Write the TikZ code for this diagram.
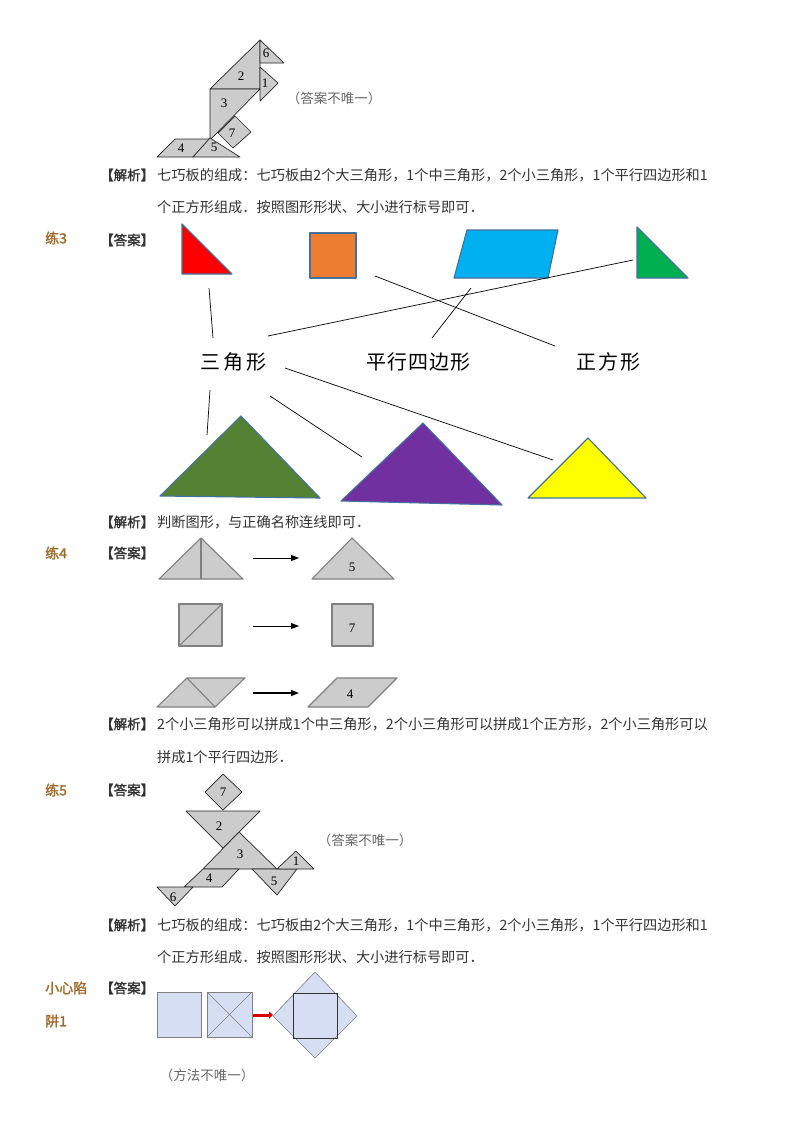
\documentclass[tikz,border=0pt]{standalone}
\usepackage{fontspec}
\usetikzlibrary{arrows.meta}
\setmainfont{Liberation Serif}
\newfontfamily\cjk{Noto Sans CJK SC}
\newfontfamily\cjkb[FakeBold=1.6]{Noto Sans CJK SC}
\begin{document}
\begin{tikzpicture}[x=1pt,y=-1pt,
  txt/.style={anchor=west,inner sep=0pt,text=black!80,font=\cjk\fontsize{14.2}{16}\selectfont},
  tag/.style={anchor=west,inner sep=0pt,text=black!80,font=\cjkb\fontsize{13.5}{15}\selectfont},
  lian/.style={anchor=west,inner sep=0pt,text={rgb,255:red,160;green,105;blue,40},font=\cjkb\fontsize{14}{16}\selectfont},
  gray note/.style={inner sep=0pt,text=black!60,font=\cjk\fontsize{13.5}{15}\selectfont},
  pc/.style={fill=black!20,draw=black!85,line width=0.7pt,line join=round},
  pc4/.style={fill=black!20,draw=black!50,line width=1.1pt,line join=round},
  numx/.style={inner sep=0pt,font=\fontsize{13}{15}\selectfont},
  colp/.style={draw={rgb,255:red,65;green,113;blue,156},line width=1.1pt,line join=round},
  lbl/.style={inner sep=0pt,font=\cjk\fontsize{20}{22}\selectfont},
  ln/.style={black,line width=0.7pt},
  paper/.style={fill={rgb,255:red,214;green,222;blue,244},draw=black!50,line width=0.6pt},
  arr/.style={-{Triangle[length=8pt,width=6pt]},line width=0.9pt}]
\path[fill=white] (0,0) rectangle (800,1133);
% ---- top figure
\draw[pc] (260,40)--(210,89)--(260,89)--cycle;
\draw[pc] (260,40)--(260,63)--(284,63)--cycle;
\draw[pc] (260,67)--(260,101)--(278,83)--cycle;
\draw[pc] (210,89)--(260,89)--(210,140)--cycle;
\draw[pc] (235,116)--(251,132)--(233,148)--(218,133)--cycle;
\draw[pc] (175,139)--(210,139)--(193,157)--(157,157)--cycle;
\draw[pc] (210,138)--(193,157)--(240,157)--cycle;
\node[numx] (n6) at (266,53) {6};
\node[numx] (n2) at (241,76) {2};
\node[numx] (n1) at (265,83) {1};
\node[numx] (n3) at (224,103) {3};
\node[numx] (n7) at (232,133) {7};
\node[numx] (n5) at (214,147) {5};
\node[numx] (n4) at (181,148) {4};
\node[gray note] (a1) at (334,98) {（答案不唯一）};
\node[tag] (j1) at (100,175) {【解析】};
\node[txt] (j1a) at (157,175) {七巧板的组成：七巧板由2个大三角形，1个中三角形，2个小三角形，1个平行四边形和1};
\node[txt] (j1b) at (157,207) {个正方形组成．按照图形形状、大小进行标号即可．};
% ---- lian 3
\node[lian] (l3) at (45,238) {练3};
\node[tag] (d3) at (100,240) {【答案】};
\draw[colp,fill={rgb,255:red,255;green,0;blue,0}] (182,224)--(182,274)--(232,274)--cycle;
\draw[colp,fill={rgb,255:red,237;green,125;blue,49}] (310,233) rectangle (356,278);
\draw[colp,fill={rgb,255:red,0;green,176;blue,240}] (467,230)--(558,230)--(548,278)--(454,278)--cycle;
\draw[colp,fill={rgb,255:red,0;green,176;blue,80}] (637,227)--(637,278)--(688,278)--cycle;
\node[lbl] (t1) at (233,362) {三\hspace{3pt}角\hspace{3pt}形};
\node[lbl] (t2) at (418,362) {平\hspace{1pt}行\hspace{1pt}四\hspace{1pt}边\hspace{1pt}形};
\node[lbl] (t3) at (608,362) {正\hspace{2pt}方\hspace{2pt}形};
\coordinate (c1) at (209,288); \coordinate (c2) at (213,338);
\coordinate (c3) at (375,276); \coordinate (c4) at (555,346);
\coordinate (c5) at (471,288); \coordinate (c6) at (432,338);
\coordinate (c7) at (633,260); \coordinate (c8) at (268,336);
\coordinate (c9) at (210,390); \coordinate (c10) at (207,435);
\coordinate (c11) at (270,396); \coordinate (c12) at (362,457);
\coordinate (c13) at (285,368); \coordinate (c14) at (553,460);
\draw[ln] (c1)--(c2); \draw[ln] (c3)--(c4); \draw[ln] (c5)--(c6); \draw[ln] (c7)--(c8);
\draw[ln] (c9)--(c10); \draw[ln] (c11)--(c12); \draw[ln] (c13)--(c14);
\draw[colp,fill={rgb,255:red,84;green,130;blue,53}] (160,496)--(241,416)--(320,498)--cycle;
\draw[colp,fill={rgb,255:red,112;green,48;blue,160}] (341,501)--(423,423)--(502,505)--cycle;
\draw[colp,fill={rgb,255:red,255;green,255;blue,0}] (528,498)--(588,438)--(646,498)--cycle;
\node[tag] (j3) at (100,522) {【解析】};
\node[txt] (j3a) at (157,522) {判断图形，与正确名称连线即可．};
% ---- lian 4
\node[lian] (l4) at (45,553) {练4};
\node[tag] (d4) at (100,553) {【答案】};
\draw[pc4] (159,579)--(201,538)--(243,579)--cycle; \draw[pc4] (201,538)--(201,579);
\draw[pc4] (312,579)--(352,538)--(394,579)--cycle;
\node[numx] (m5) at (352,567) {5};
\draw[pc4] (179,604) rectangle (222,646); \draw[pc4] (179,646)--(222,604);
\draw[pc4] (332,604) rectangle (373,646);
\node[numx] (m7) at (352,628) {7};
\draw[pc4] (157,707)--(187,678)--(245,678)--(215,707)--cycle; \draw[pc4] (187,678)--(215,707);
\draw[pc4] (308,707)--(337,678)--(397,678)--(368,707)--cycle;
\node[numx] (m4) at (350,694) {4};
\coordinate (r1) at (253,558); \coordinate (r2) at (299,558);
\coordinate (r3) at (253,626); \coordinate (r4) at (299,626);
\coordinate (r5) at (253,693); \coordinate (r6) at (299,693);
\draw[arr] (r1)--(r2); \draw[arr] (r3)--(r4); \draw[arr,line width=1.4pt] (r5)--(r6);
\node[tag] (j4) at (100,724) {【解析】};
\node[txt] (j4a) at (157,724) {2个小三角形可以拼成1个中三角形，2个小三角形可以拼成1个正方形，2个小三角形可以};
\node[txt] (j4b) at (157,757) {拼成1个平行四边形．};
% ---- lian 5
\node[lian] (l5) at (45,790) {练5};
\node[tag] (d5) at (100,790) {【答案】};
\draw[pc] (223,774)--(242,792)--(223,810)--(205,792)--cycle;
\draw[pc] (186,811)--(260,811)--(223,848)--cycle;
\draw[pc] (239,832)--(203,869)--(277,869)--cycle;
\draw[pc] (203,869)--(239,869)--(222,887)--(184,887)--cycle;
\draw[pc] (157,887)--(193,887)--(175,906)--cycle;
\draw[pc] (252,869)--(297,869)--(277,895)--cycle;
\draw[pc] (277,869)--(296,851)--(314,869)--cycle;
\node[numx] (k7) at (223,792) {7};
\node[numx] (k2) at (219,826) {2};
\node[numx] (k3) at (240,854) {3};
\node[numx] (k4) at (209,878) {4};
\node[numx] (k6) at (173,897) {6};
\node[numx] (k5) at (274,881) {5};
\node[numx] (k1) at (296,861) {1};
\node[gray note] (a5) at (365,840) {（答案不唯一）};
\node[tag] (j5) at (100,925) {【解析】};
\node[txt] (j5a) at (157,925) {七巧板的组成：七巧板由2个大三角形，1个中三角形，2个小三角形，1个平行四边形和1};
\node[txt] (j5b) at (157,957) {个正方形组成．按照图形形状、大小进行标号即可．};
% ---- trap
\node[lian] (x1) at (45,988) {小心陷};
\node[lian] (x2) at (45,1021) {阱1};
\node[tag] (d6) at (100,988) {【答案】};
\draw[paper] (157,992) rectangle (201,1037);
\draw[paper] (207,992) rectangle (252,1037);
\draw[black!50,line width=0.6pt] (207,992)--(252,1037) (207,1037)--(252,992);
\draw[paper] (273,1016)--(315,972)--(357,1016)--(315,1058)--cycle;
\draw[black!80,line width=0.8pt] (293,993) rectangle (337,1038);
\coordinate (p1) at (253,1015); \coordinate (p2) at (273,1015);
\draw[-{Triangle[length=4pt,width=7pt]},red!85!black,line width=3pt] (p1)--(p2);
\node[gray note] (a6) at (207,1075) {（方法不唯一）};
\end{tikzpicture}
\end{document}
